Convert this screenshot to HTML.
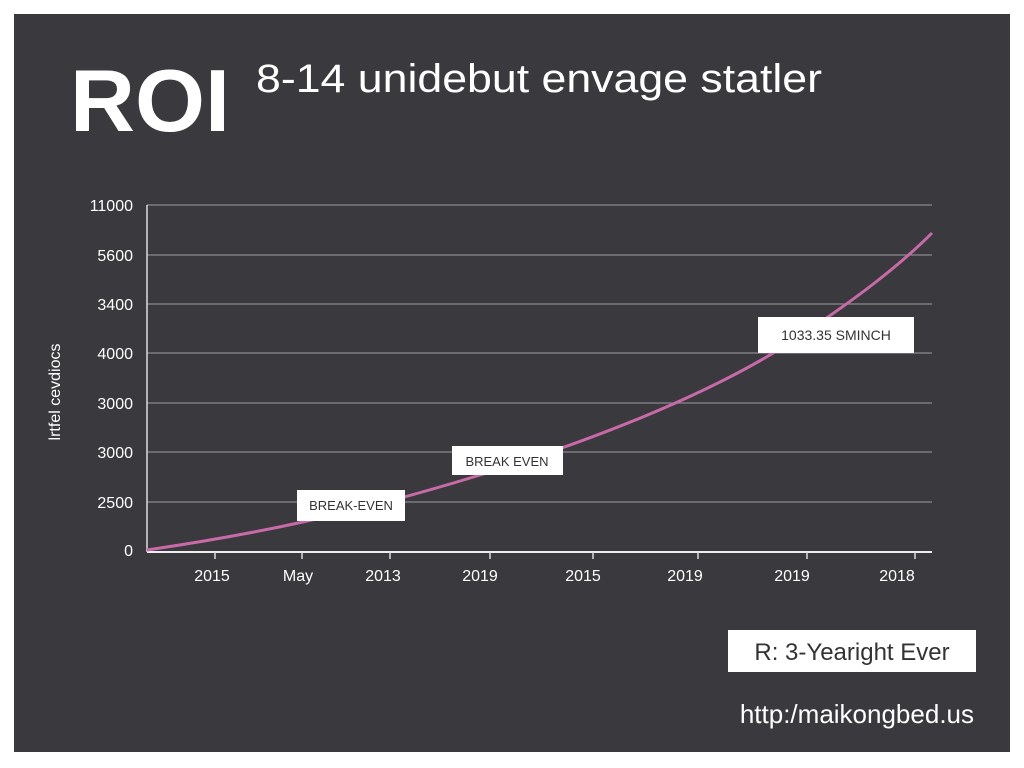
<!DOCTYPE html>
<html><head><style>
body{margin:0;width:1024px;height:768px;background:#fff;overflow:hidden;font-family:"Liberation Sans",sans-serif}
</style></head><body>
<svg width="1024" height="768" xmlns="http://www.w3.org/2000/svg" style="position:absolute;left:0;top:0">
<rect x="14" y="14" width="996" height="738" fill="#3a3a3e"/>
<text x="70" y="131" fill="#fff" font-size="88" font-weight="bold" font-family="Liberation Sans" textLength="160" lengthAdjust="spacingAndGlyphs">ROI</text>
<text x="256" y="92" fill="#fff" font-size="40" font-family="Liberation Sans" textLength="566" lengthAdjust="spacingAndGlyphs">8-14 unidebut envage statler</text>
<g stroke="#8a8a8e" stroke-width="1.3">
<line x1="147" y1="205" x2="932" y2="205"/>
<line x1="147" y1="255" x2="932" y2="255"/>
<line x1="147" y1="304" x2="932" y2="304"/>
<line x1="147" y1="353" x2="932" y2="353"/>
<line x1="147" y1="403" x2="932" y2="403"/>
<line x1="147" y1="452" x2="932" y2="452"/>
<line x1="147" y1="502" x2="932" y2="502"/>
</g>
<line x1="147" y1="205" x2="147" y2="552" stroke="#ddd" stroke-width="1.5"/>
<line x1="147" y1="552" x2="932" y2="552" stroke="#eee" stroke-width="2"/>
<g stroke="#ddd" stroke-width="1.5">
<line x1="215" y1="552" x2="215" y2="559"/><line x1="302" y1="552" x2="302" y2="559"/>
<line x1="390" y1="552" x2="390" y2="559"/><line x1="490" y1="552" x2="490" y2="559"/>
<line x1="593" y1="552" x2="593" y2="559"/><line x1="698" y1="552" x2="698" y2="559"/>
<line x1="807" y1="552" x2="807" y2="559"/><line x1="915" y1="552" x2="915" y2="559"/>
</g>
<g fill="#fff" font-size="16" text-anchor="end" font-family="Liberation Sans">
<text x="133" y="211">11000</text><text x="133" y="261">5600</text><text x="133" y="310">3400</text>
<text x="133" y="359">4000</text><text x="133" y="409">3000</text><text x="133" y="458">3000</text>
<text x="133" y="508">2500</text><text x="133" y="556">0</text>
</g>
<g fill="#fff" font-size="16" text-anchor="middle" font-family="Liberation Sans">
<text x="212" y="581">2015</text><text x="298" y="581">May</text><text x="383" y="581">2013</text>
<text x="480" y="581">2019</text><text x="583" y="581">2015</text><text x="685" y="581">2019</text>
<text x="792" y="581">2019</text><text x="897" y="581">2018</text>
</g>
<text transform="translate(60,392) rotate(-90)" fill="#fff" font-size="16" text-anchor="middle" font-family="Liberation Sans">lrtfel cevdiocs</text>
<path d="M147,550 C250,535 350,515 480,475 C600,438 720,390 800,336 C860,296 900,265 932,233" fill="none" stroke="#c86aa8" stroke-width="3"/>
<rect x="297" y="490" width="108" height="31" fill="#fff"/>
<text x="351" y="510" font-size="13" text-anchor="middle" fill="#333">BREAK-EVEN</text>
<rect x="452" y="446" width="111" height="29" fill="#fff"/>
<text x="507" y="466" font-size="13" text-anchor="middle" fill="#333">BREAK EVEN</text>
<rect x="758" y="317" width="156" height="36" fill="#fff"/>
<text x="836" y="340" font-size="14" text-anchor="middle" fill="#333">1033.35 SMINCH</text>
<rect x="728" y="630" width="248" height="42" fill="#fff"/>
<text x="852" y="660" font-size="24" text-anchor="middle" fill="#333">R: 3-Yearight Ever</text>
<text x="974" y="723" font-size="26" text-anchor="end" fill="#fff">http:/maikongbed.us</text>
</svg>
</body></html>
